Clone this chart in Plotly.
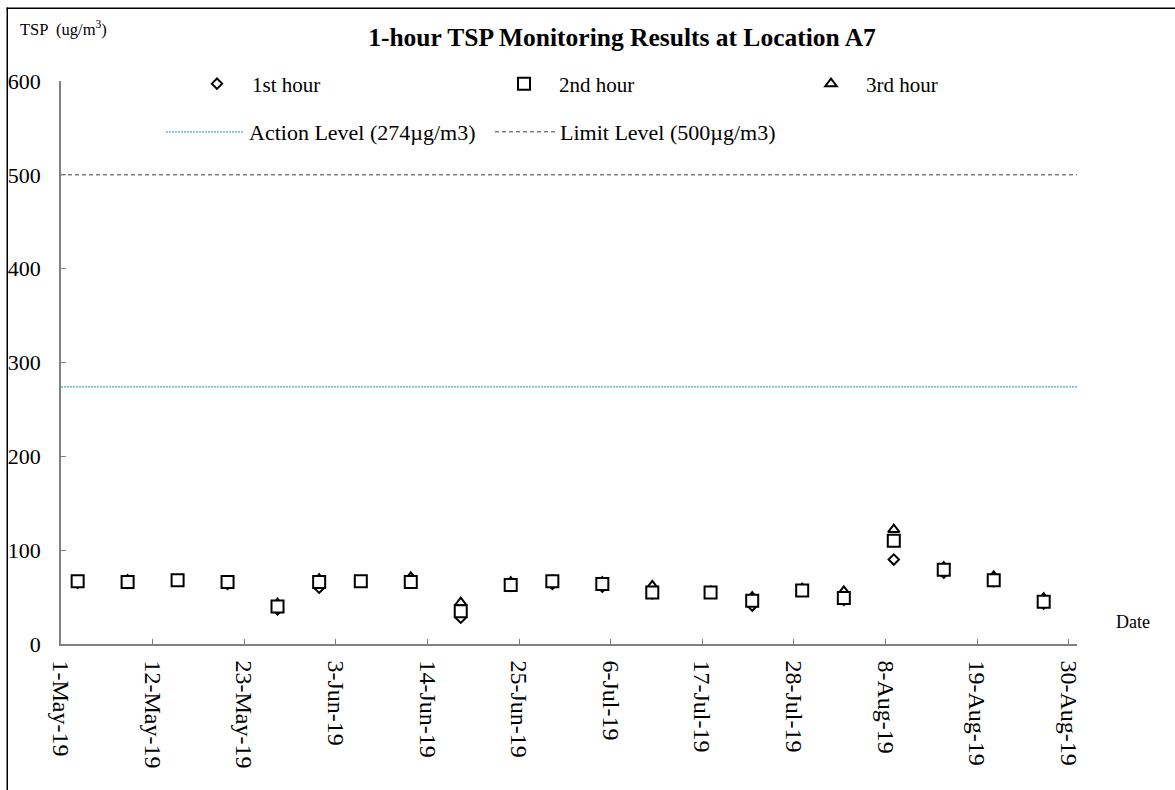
import plotly.graph_objects as go

# ---------------- data ----------------
dates = ["2019-05-03", "2019-05-09", "2019-05-15", "2019-05-21", "2019-05-27",
         "2019-06-01", "2019-06-06", "2019-06-12", "2019-06-18", "2019-06-24",
         "2019-06-29", "2019-07-05", "2019-07-11", "2019-07-18", "2019-07-23",
         "2019-07-29", "2019-08-03", "2019-08-09", "2019-08-15", "2019-08-21",
         "2019-08-27"]
hour1 = [65, 65, 68, 64, 37, 60, 67, 66, 28, 62, 64, 61, 54, 55, 41, 57, 47, 90, 76, 67, 43]
hour2 = [67, 66, 68, 66, 40, 66, 67, 66, 35, 63, 67, 64, 55, 55, 46, 57, 49, 110, 79, 68, 45]
hour3 = [67, 68, 68, 66, 43, 69, 67, 71, 44, 66, 67, 66, 62, 56, 50, 59, 56, 122, 82, 72, 49]

action_level = 274
limit_level = 500

tick_dates = ["2019-05-01", "2019-05-12", "2019-05-23", "2019-06-03", "2019-06-14",
              "2019-06-25", "2019-07-06", "2019-07-17", "2019-07-28", "2019-08-08",
              "2019-08-19", "2019-08-30"]
tick_labels = ["1-May-19", "12-May-19", "23-May-19", "3-Jun-19", "14-Jun-19",
               "25-Jun-19", "6-Jul-19", "17-Jul-19", "28-Jul-19", "8-Aug-19",
               "19-Aug-19", "30-Aug-19"]
x_range = ["2019-05-01", "2019-08-31"]

FONT = "Liberation Serif, Times New Roman, serif"

fig = go.Figure()

fig.add_trace(go.Scatter(
    x=x_range, y=[action_level, action_level], mode="lines",
    name="Action Level (274µg/m3)", legend="legend2",
    line=dict(color="#4BACC6", width=1.3, dash="2px,1px")))
fig.add_trace(go.Scatter(
    x=x_range, y=[limit_level, limit_level], mode="lines",
    name="Limit Level (500µg/m3)", legend="legend3",
    line=dict(color="#404040", width=1, dash="4px,3px")))

fig.add_trace(go.Scatter(
    x=dates, y=hour1, mode="markers", name="1st hour", legendrank=1,
    marker=dict(symbol="diamond", size=8, color="white",
                line=dict(color="black", width=2))))
fig.add_trace(go.Scatter(
    x=dates, y=hour3, mode="markers", name="3rd hour", legendrank=3,
    marker=dict(symbol="triangle-up", size=10, color="white",
                line=dict(color="black", width=2))))
fig.add_trace(go.Scatter(
    x=dates, y=hour2, mode="markers", name="2nd hour", legendrank=2,
    marker=dict(symbol="square", size=12, color="white",
                line=dict(color="black", width=2))))

W, H = 1175, 790
L, R, T, B = 61, 98, 81, 146
pw, ph = W - L - R, H - T - B


def px(x):
    return (x - L) / pw


def py(y):
    return (H - B - y) / ph


leg_common = dict(orientation="h", xanchor="left", yanchor="middle",
                  bgcolor="rgba(0,0,0,0)")

fig.update_layout(
    template="none",
    width=W, height=H,
    margin=dict(l=L, r=R, t=T, b=B, autoexpand=False),
    paper_bgcolor="white", plot_bgcolor="white",
    font=dict(family=FONT, color="black", size=21),
    title=dict(text="<b>1-hour TSP Monitoring Results at Location A7</b>",
               xref="paper", x=px(622), xanchor="center",
               yref="container", y=1 - 37 / H, yanchor="middle",
               font=dict(family=FONT, size=25.5, color="black")),
    xaxis=dict(type="date", range=x_range, tickvals=tick_dates, ticktext=tick_labels,
               tickangle=90, ticks="inside", ticklen=5, tickcolor="#808080",
               showline=True, linecolor="#808080", linewidth=1.5, automargin=False,
               showgrid=False, zeroline=False, ticklabelstandoff=10,
               tickfont=dict(family=FONT, size=24, color="black")),
    yaxis=dict(range=[0, 600], dtick=100, ticks="inside", ticklen=5, tickcolor="#808080",
               showline=True, linecolor="#808080", linewidth=1.5, automargin=False,
               showgrid=False, zeroline=False, ticklabelstandoff=14,
               tickfont=dict(family=FONT, size=22, color="black")),
    legend=dict(**leg_common, x=px(182), y=py(84), itemwidth=60,
                entrywidth=232, entrywidthmode="pixels",
                font=dict(family=FONT, size=21, color="black"), traceorder="normal"),
    legend2=dict(**leg_common, x=px(161), y=py(132), itemwidth=78,
                 font=dict(family=FONT, size=22, color="black")),
    legend3=dict(**leg_common, x=px(490), y=py(132), itemwidth=60,
                 font=dict(family=FONT, size=22, color="black")),
    showlegend=True,
)

fig.add_annotation(text="TSP  (ug/m<sup>3</sup>)", xref="paper", yref="paper",
                   x=px(18), y=py(28), xanchor="left", yanchor="middle", showarrow=False,
                   font=dict(family=FONT, size=16.5, color="black"))
fig.add_annotation(text="Date", xref="paper", yref="paper",
                   x=px(1114), y=py(622), xanchor="left", yanchor="middle", showarrow=False,
                   font=dict(family=FONT, size=18, color="black"))

# chart-area border (left and top edges visible in the picture)
fig.add_shape(type="rect", xref="paper", yref="paper",
              x0=px(6.5), x1=px(8), y0=py(790), y1=py(7.5),
              line=dict(width=0), fillcolor="black", layer="above")
fig.add_shape(type="rect", xref="paper", yref="paper",
              x0=px(6.5), x1=px(1175), y0=py(9), y1=py(7.5),
              line=dict(width=0), fillcolor="black", layer="above")

fig.write_html("out.html", config={"displayModeBar": False},
               post_script="document.body.style.margin='0';")
